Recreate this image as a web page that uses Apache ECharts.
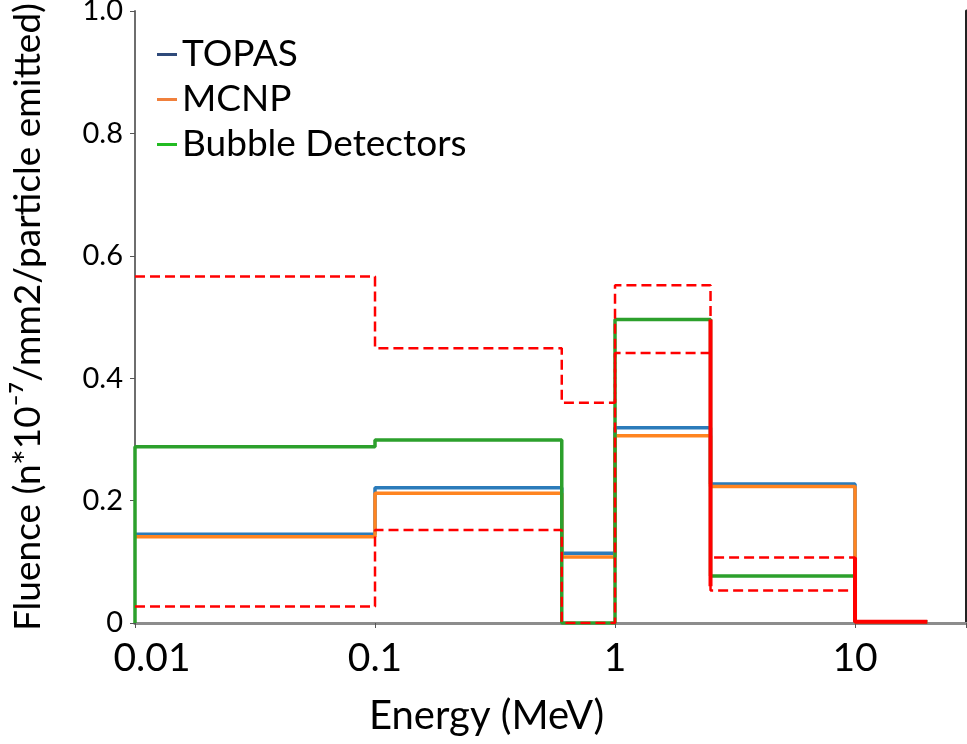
<!DOCTYPE html>
<html>
<head>
<meta charset="utf-8">
<script src="https://cdn.jsdelivr.net/npm/echarts@6/dist/echarts.min.js"></script>
<style>
html,body{margin:0;padding:0;background:#fff;}
#chart{width:967px;height:744px;}
</style>
</head>
<body>
<div id="chart"></div>
<script>
// Bin edges (MeV)
const binEdges = [0.01, 0.1, 0.6, 1, 2.5, 10, 20];
// Values per bin
const topas  = [0.145, 0.221, 0.114, 0.319, 0.227, 0.002];
const mcnp   = [0.141, 0.212, 0.108, 0.306, 0.223, 0.002];
const bubble = [0.288, 0.299, 0.000, 0.496, 0.077, 0.002];
const upperLimit = [0.566, 0.449, 0.360, 0.552, 0.107];
const lowerLimit = [0.027, 0.152, 0.000, 0.441, 0.053];
// Red solid segments (x, y); null breaks the line
const redSolidX = [2.5, 2.5, null, 10, 10, 20];
const redSolidY = [0.496, 0.06, null, 0.107, 0.002, 0.002];
// Tick labels
const xTickLabels = ['0.01', '0.1', '1', '10'];
const yTickLabels = ['0', '0.2', '0.4', '0.6', '0.8', '1.0'];

function stepPoints(edges, vals, startZero, endZero) {
  const pts = [];
  if (startZero) pts.push([edges[0], 0]);
  for (let i = 0; i < vals.length; i++) {
    pts.push([edges[i], vals[i]]);
    pts.push([edges[i + 1], vals[i]]);
  }
  if (endZero) pts.push([edges[vals.length], 0]);
  return pts;
}
const redSolidData = redSolidX.map((x, i) => x === null ? [null, null] : [x, redSolidY[i]]);

const FONT = 'Lato';
const chart = echarts.init(document.getElementById('chart'), null, {renderer: 'canvas'});
const option = {
  animation: false,
  backgroundColor: '#ffffff',
  grid: {left: 135, right: 1, top: 11, bottom: 121, containLabel: false, outerBoundsMode: 'none'},
  legend: {
    show: true,
    left: 152, top: 31, orient: 'vertical',
    itemWidth: 20, itemHeight: 3, itemGap: 8,
    icon: 'rect',
    textStyle: {fontFamily: FONT, fontSize: 37, lineHeight: 37, color: '#000'},
    data: [
      {name: 'TOPAS', itemStyle: {color: '#2F4A7A'}},
      {name: 'MCNP', itemStyle: {color: '#F0803C'}},
      {name: 'Bubble Detectors', itemStyle: {color: '#22BB22'}}
    ]
  },
  xAxis: [{
    type: 'log', logBase: 10, min: 0.01, max: 29,
    axisLine: {show: true, lineStyle: {color: '#8c8c8c', width: 3}},
    axisTick: {show: true, length: 5, lineStyle: {color: '#555', width: 1}},
    splitLine: {show: false},
    axisLabel: {
      fontFamily: FONT, fontSize: 39, color: '#000', margin: 16,
      rich: {first: {fontFamily: FONT, fontSize: 39, color: '#000', padding: [0, 0, 0, 34]}},
      formatter: function (v) {
        const l = Math.log10(v);
        if (Math.abs(l - Math.round(l)) > 1e-6) return '';
        const idx = Math.round(l) + 2;
        if (xTickLabels[idx] === undefined) return '';
        return idx === 0 ? '{first|' + xTickLabels[idx] + '}' : xTickLabels[idx];
      }
    }
  }, {
    type: 'log', logBase: 10, min: 0.01, max: 29, position: 'top',
    axisLine: {show: true, lineStyle: {color: '#8c8c8c', width: 3}},
    axisTick: {show: false}, axisLabel: {show: false}, splitLine: {show: false}
  }],
  yAxis: [{
    type: 'value', min: 0, max: 1, interval: 0.2,
    axisLine: {show: true, lineStyle: {color: '#6e6e6e', width: 2}},
    axisTick: {show: true, length: 5, lineStyle: {color: '#555', width: 1}},
    splitLine: {show: false},
    axisLabel: {
      fontFamily: FONT, fontSize: 29, color: '#000', margin: 12,
      formatter: function (v) { return yTickLabels[Math.round(v * 5)]; }
    },
    name: 'Fluence (n*10\u207B\u2077/mm2/particle emitted)',
    nameLocation: 'middle', nameRotate: 90, nameGap: 88,
    nameTextStyle: {fontFamily: FONT, fontSize: 37, color: '#000'}
  }, {
    type: 'value', min: 0, max: 1, position: 'right',
    axisLine: {show: true, lineStyle: {color: '#222', width: 3}},
    axisTick: {show: false}, axisLabel: {show: false}, splitLine: {show: false}
  }],
  graphic: [{
    type: 'text', left: 369, top: 696,
    style: {text: 'Energy (MeV)', fontFamily: FONT, fontSize: 40, fill: '#000'}
  }],
  series: [
    {name: 'TOPAS', type: 'line', data: stepPoints(binEdges, topas, false, false),
     showSymbol: false, symbol: 'none', z: 2,
     lineStyle: {color: '#2B7BBA', width: 3.5}, itemStyle: {color: '#2B7BBA'}},
    {name: 'MCNP', type: 'line', data: stepPoints(binEdges, mcnp, false, false),
     showSymbol: false, symbol: 'none', z: 3,
     lineStyle: {color: '#FF8420', width: 3.5}, itemStyle: {color: '#FF8420'}},
    {name: 'Bubble Detectors', type: 'line', data: stepPoints(binEdges, bubble, true, false),
     showSymbol: false, symbol: 'none', z: 4,
     lineStyle: {color: '#2CA02C', width: 3.5}, itemStyle: {color: '#2CA02C'}},
    {name: 'Upper', type: 'line', data: stepPoints(binEdges, upperLimit, false, true),
     showSymbol: false, symbol: 'none', z: 5,
     lineStyle: {color: '#FF0000', width: 2.5, type: [10, 5]}},
    {name: 'Lower', type: 'line', data: stepPoints(binEdges, lowerLimit, false, true),
     showSymbol: false, symbol: 'none', z: 5,
     lineStyle: {color: '#FF0000', width: 2.5, type: [10, 5]}},
    {name: 'RedSolid', type: 'line', data: redSolidData, connectNulls: false,
     showSymbol: false, symbol: 'none', z: 6,
     lineStyle: {color: '#FF0000', width: 4}}
  ]
};
chart.setOption(option);
</script>
</body>
</html>
